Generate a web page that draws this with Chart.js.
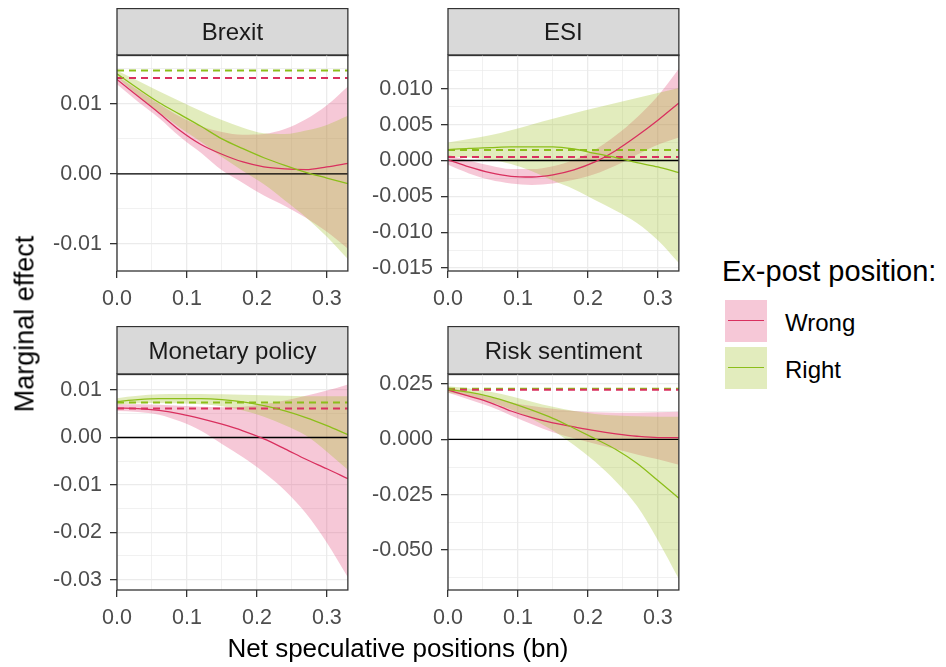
<!DOCTYPE html>
<html>
<head>
<meta charset="utf-8">
<script src="https://cdn.jsdelivr.net/npm/chart.js@4.4.0/dist/chart.umd.min.js"></script>
<style>
  body { margin: 0; background: #fff; }
  #fig { position: relative; width: 946px; height: 667px; overflow: hidden;
         font-family: "Liberation Sans", Arial, sans-serif; }
  #fig canvas { position: absolute; }
  #ytitle { position: absolute; left: 25px; top: 324px; transform: translate(-50%, -50%) rotate(-90deg);
            font-size: 27px; white-space: nowrap; color: #000; }
  #xtitle { position: absolute; left: 398px; top: 648px; transform: translate(-50%, -50%);
            font-size: 26px; white-space: nowrap; color: #000; }
  #legend { position: absolute; left: 722px; top: 254px; }
  #legend .title { font-size: 29px; color: #000; white-space: nowrap; height: 34px; line-height: 34px; }
  #legend .item { position: relative; height: 42px; margin-top: 5px; }
  #legend .item.first { margin-top: 12px; }
  #legend .key { position: absolute; left: 3px; top: 0; width: 42px; height: 42px; }
  #legend .key span { position: absolute; left: 3px; right: 3px; top: 20px; height: 1.3px; }
  #legend .lab { position: absolute; left: 63px; top: 2px; line-height: 42px; font-size: 24px; color: #000; }
</style>
</head>
<body>
<div id="fig">
  <canvas id="c0"></canvas>
  <canvas id="c1"></canvas>
  <canvas id="c2"></canvas>
  <canvas id="c3"></canvas>
  <div id="ytitle">Marginal effect</div>
  <div id="xtitle">Net speculative positions (bn)</div>
  <div id="legend">
    <div class="title">Ex-post position:</div>
    <div class="item first"><div class="key" id="keyWrong"><span></span></div><div class="lab">Wrong</div></div>
    <div class="item"><div class="key" id="keyRight"><span></span></div><div class="lab">Right</div></div>
  </div>
</div>
<script>
// data
const xValues = [0, 0.03, 0.06, 0.09, 0.12, 0.15, 0.18, 0.21, 0.24, 0.27, 0.30, 0.33];
const xTicks = [0, 0.1, 0.2, 0.3];
const xTickLabels = ["0.0", "0.1", "0.2", "0.3"];
const groups = ["Wrong", "Right"];

const brexitWrong     = [0.0135, 0.0111, 0.0087, 0.0062, 0.0042, 0.0028, 0.0017, 0.0010, 0.0007, 0.0006, 0.0010, 0.0015];
const brexitWrongLow  = [0.0128, 0.0103, 0.0080, 0.0053, 0.0030, 0.0005, -0.0013, -0.0031, -0.0046, -0.0063, -0.0083, -0.0107];
const brexitWrongHigh = [0.0140, 0.0120, 0.0100, 0.0082, 0.0068, 0.0060, 0.0056, 0.0057, 0.0064, 0.0078, 0.0098, 0.0125];
const brexitRight     = [0.0143, 0.0122, 0.0102, 0.0085, 0.0068, 0.0050, 0.0036, 0.0023, 0.0012, 0.0002, -0.0006, -0.0014];
const brexitRightLow  = [0.0138, 0.0112, 0.0088, 0.0066, 0.0046, 0.0024, 0.0004, -0.0015, -0.0038, -0.0062, -0.0090, -0.0122];
const brexitRightHigh = [0.0148, 0.0133, 0.0118, 0.0104, 0.0090, 0.0077, 0.0066, 0.0058, 0.0057, 0.0062, 0.0070, 0.0083];
const brexitDashed    = [0.0137, 0.0148];
const brexitTicks     = [-0.01, 0, 0.01];
const brexitLabels    = ["-0.01", "0.00", "0.01"];

const esiWrong     = [0.0001, -0.0009, -0.0017, -0.0022, -0.0023, -0.0020, -0.0013, -0.0002, 0.0014, 0.0034, 0.0056, 0.0080];
const esiWrongLow  = [-0.0006, -0.0018, -0.0027, -0.0032, -0.0034, -0.0032, -0.0027, -0.0019, -0.0007, 0.0008, 0.0022, 0.0032];
const esiWrongHigh = [0.0008, 0.0000, -0.0007, -0.0012, -0.0012, -0.0008, 0.0001, 0.0015, 0.0035, 0.0060, 0.0090, 0.0128];
const esiRight     = [0.0015, 0.0017, 0.0018, 0.0019, 0.0019, 0.0019, 0.0016, 0.0010, 0.0004, -0.0003, -0.0009, -0.0017];
const esiRightLow  = [0.0006, 0.0004, 0.0001, -0.0005, -0.0015, -0.0028, -0.0040, -0.0055, -0.0070, -0.0087, -0.0111, -0.0143];
const esiRightHigh = [0.0025, 0.0030, 0.0035, 0.0042, 0.0050, 0.0058, 0.0066, 0.0073, 0.0080, 0.0087, 0.0094, 0.0101];
const esiDashed    = [0.0005, 0.00145];
const esiTicks     = [-0.015, -0.01, -0.005, 0, 0.005, 0.01];
const esiLabels    = ["-0.015", "-0.010", "-0.005", "0.000", "0.005", "0.010"];

const monWrong     = [0.0062, 0.0061, 0.0057, 0.0050, 0.0040, 0.0028, 0.0014, -0.0003, -0.0024, -0.0046, -0.0066, -0.0087];
const monWrongLow  = [0.0056, 0.0054, 0.0048, 0.0034, 0.0014, -0.0014, -0.0042, -0.0074, -0.0112, -0.0160, -0.0222, -0.0295];
const monWrongHigh = [0.0070, 0.0070, 0.0069, 0.0067, 0.0065, 0.0064, 0.0065, 0.0070, 0.0078, 0.0088, 0.0099, 0.0112];
const monRight     = [0.0076, 0.0080, 0.0082, 0.0082, 0.0082, 0.0080, 0.0075, 0.0067, 0.0056, 0.0042, 0.0025, 0.0006];
const monRightLow  = [0.0069, 0.0072, 0.0073, 0.0072, 0.0070, 0.0066, 0.0057, 0.0044, 0.0026, 0.0004, -0.0030, -0.0068];
const monRightHigh = [0.0083, 0.0088, 0.0091, 0.0092, 0.0092, 0.0091, 0.0090, 0.0089, 0.0088, 0.0087, 0.0087, 0.0087];
const monDashed    = [0.0061, 0.0074];
const monTicks     = [-0.03, -0.02, -0.01, 0, 0.01];
const monLabels    = ["-0.03", "-0.02", "-0.01", "0.00", "0.01"];

const riskWrong     = [0.0223, 0.0195, 0.0166, 0.0128, 0.0098, 0.0074, 0.0056, 0.0039, 0.0025, 0.0014, 0.0008, 0.0008];
const riskWrongLow  = [0.0210, 0.0180, 0.0148, 0.0108, 0.0068, 0.0032, 0.0005, -0.0020, -0.0045, -0.0068, -0.0090, -0.0115];
const riskWrongHigh = [0.0235, 0.0213, 0.0190, 0.0168, 0.0150, 0.0138, 0.0128, 0.0122, 0.0120, 0.0120, 0.0122, 0.0125];
const riskRight     = [0.0225, 0.0213, 0.0193, 0.0165, 0.0132, 0.0095, 0.0050, 0.0003, -0.0046, -0.0108, -0.0186, -0.0266];
const riskRightLow  = [0.0210, 0.0195, 0.0170, 0.0135, 0.0092, 0.0040, -0.0025, -0.0100, -0.0190, -0.0300, -0.0455, -0.0630];
const riskRightHigh = [0.0240, 0.0230, 0.0215, 0.0195, 0.0170, 0.0147, 0.0128, 0.0115, 0.0108, 0.0104, 0.0102, 0.0102];
const riskDashed    = [0.0224, 0.0228];
const riskTicks     = [-0.05, -0.025, 0, 0.025];
const riskLabels    = ["-0.050", "-0.025", "0.000", "0.025"];

// styles
const redLine = "#D9305F";
const greenLine = "#8CBE1A";
const redFill = "rgba(225, 72, 122, 0.3)";
const greenFill = "rgba(158, 192, 38, 0.3)";
const dark = "#333333";

Chart.defaults.font.family = "'Liberation Sans', Arial, sans-serif";

const panels = [
  { id: "c0", title: "Brexit", left: 117, top: 55, strip: 47, min: -0.0139, max: 0.0170,
    series: [brexitWrong, brexitWrongLow, brexitWrongHigh, brexitRight, brexitRightLow, brexitRightHigh],
    dashed: brexitDashed, ticks: brexitTicks, labels: brexitLabels },
  { id: "c1", title: "ESI", left: 448, top: 55, strip: 47, min: -0.0154, max: 0.0147,
    series: [esiWrong, esiWrongLow, esiWrongHigh, esiRight, esiRightLow, esiRightHigh],
    dashed: esiDashed, ticks: esiTicks, labels: esiLabels },
  { id: "c2", title: "Monetary policy", left: 117, top: 374, strip: 48, min: -0.0322, max: 0.0134,
    series: [monWrong, monWrongLow, monWrongHigh, monRight, monRightLow, monRightHigh],
    dashed: monDashed, ticks: monTicks, labels: monLabels },
  { id: "c3", title: "Risk sentiment", left: 448, top: 374, strip: 48, min: -0.068, max: 0.0295,
    series: [riskWrong, riskWrongLow, riskWrongHigh, riskRight, riskRightLow, riskRightHigh],
    dashed: riskDashed, ticks: riskTicks, labels: riskLabels },
];

const PW = 231, PH = 216, YW = 90, XH = 44, PADR = 2;

function pts(ys) {
  return ys.map((y, i) => ({ x: xValues[i], y: y }));
}
function flat(v) {
  return [{ x: xValues[0], y: v }, { x: xValues[xValues.length - 1], y: v }];
}
function withMinor(major, min, max) {
  const step = major[1] - major[0];
  const out = major.slice();
  for (let v = major[0] - step / 2; v <= max + 1e-12; v += step) {
    if (v >= min - 1e-12) out.push(v);
  }
  return out.filter(v => v >= min - 1e-12 && v <= max + 1e-12).sort((a, b) => a - b);
}
function isMajor(v, major) {
  return major.some(m => Math.abs(m - v) < 1e-9);
}
function labelFor(v, major, labels) {
  const i = major.findIndex(m => Math.abs(m - v) < 1e-9);
  return i < 0 ? "" : labels[i];
}

const panelFrame = {
  id: "panelFrame",
  beforeDraw(chart, args, opts) {
    const a = chart.chartArea, ctx = chart.ctx;
    ctx.save();
    ctx.fillStyle = "#D9D9D9";
    ctx.fillRect(a.left, a.top - opts.strip, a.right - a.left, opts.strip);
    ctx.strokeStyle = dark;
    ctx.lineWidth = 1.3;
    ctx.strokeRect(a.left, a.top - opts.strip + 0.5, a.right - a.left, opts.strip);
    ctx.fillStyle = "#1A1A1A";
    ctx.font = "24px 'Liberation Sans', Arial, sans-serif";
    ctx.textAlign = "center";
    ctx.textBaseline = "middle";
    ctx.fillText(opts.title, (a.left + a.right) / 2, a.top - opts.strip / 2 + 2);
    ctx.restore();
  },
  afterDraw(chart) {
    const a = chart.chartArea, ctx = chart.ctx;
    ctx.save();
    ctx.strokeStyle = dark;
    ctx.lineWidth = 1.3;
    ctx.strokeRect(a.left, a.top, a.right - a.left, a.bottom - a.top);
    ctx.restore();
  }
};

panels.forEach(p => {
  const cv = document.getElementById(p.id);
  const w = YW + PW + PADR, h = p.strip + PH + XH;
  cv.width = w; cv.height = h;
  cv.style.left = (p.left - YW) + "px";
  cv.style.top = (p.top - p.strip) + "px";
  cv.style.width = w + "px"; cv.style.height = h + "px";

  const [wMid, wLow, wHigh, rMid, rLow, rHigh] = p.series;
  const band = { pointRadius: 0, borderWidth: 0, borderColor: "rgba(0,0,0,0)", cubicInterpolationMode: "monotone" };
  const yAll = withMinor(p.ticks, p.min, p.max);
  const xAll = withMinor(xTicks, 0, 0.33);

  new Chart(cv, {
    type: "line",
    data: {
      datasets: [
        Object.assign({ label: "Wrong band", data: pts(wHigh), fill: "+1", backgroundColor: redFill, order: 5 }, band),
        Object.assign({ label: "Wrong low", data: pts(wLow), fill: false, order: 5 }, band),
        Object.assign({ label: "Right band", data: pts(rHigh), fill: "+1", backgroundColor: greenFill, order: 4 }, band),
        Object.assign({ label: "Right low", data: pts(rLow), fill: false, order: 4 }, band),
        { label: "zero", data: flat(0), borderColor: "#000", borderWidth: 1.4, pointRadius: 0, fill: false, order: 3 },
        { label: groups[0] + " mean", data: flat(p.dashed[0]), borderColor: redLine, borderWidth: 2, borderDash: [7, 5],
          pointRadius: 0, fill: false, order: 2 },
        { label: groups[1] + " mean", data: flat(p.dashed[1]), borderColor: greenLine, borderWidth: 2, borderDash: [7, 5],
          pointRadius: 0, fill: false, order: 2 },
        { label: groups[0], data: pts(wMid), borderColor: redLine, borderWidth: 1.3, pointRadius: 0, fill: false,
          cubicInterpolationMode: "monotone", order: 1 },
        { label: groups[1], data: pts(rMid), borderColor: greenLine, borderWidth: 1.3, pointRadius: 0, fill: false,
          cubicInterpolationMode: "monotone", order: 0 },
      ]
    },
    options: {
      responsive: false,
      animation: false,
      devicePixelRatio: 1,
      layout: { padding: { top: p.strip, right: PADR, left: 0, bottom: 0 } },
      plugins: {
        legend: { display: false },
        tooltip: { enabled: false },
        panelFrame: { title: p.title, strip: p.strip }
      },
      scales: {
        x: {
          type: "linear", min: 0, max: 0.33,
          afterBuildTicks: s => { s.ticks = xAll.map(v => ({ value: v })); },
          afterFit: s => { s.height = XH; },
          border: { display: false },
          grid: {
            color: "#EBEBEB",
            lineWidth: c => isMajor(c.tick.value, xTicks) ? 1.3 : 0.7,
            tickColor: c => isMajor(c.tick.value, xTicks) ? dark : "rgba(0,0,0,0)",
            tickWidth: 1.3, tickLength: 7
          },
          ticks: {
            autoSkip: false, maxRotation: 0, padding: 8, color: "#4D4D4D", font: { size: 21.5 },
            callback: v => labelFor(v, xTicks, xTickLabels)
          }
        },
        y: {
          type: "linear", min: p.min, max: p.max,
          afterBuildTicks: s => { s.ticks = yAll.map(v => ({ value: v })); },
          afterFit: s => { s.width = YW; },
          border: { display: false },
          grid: {
            color: "#EBEBEB",
            lineWidth: c => isMajor(c.tick.value, p.ticks) ? 1.3 : 0.7,
            tickColor: c => isMajor(c.tick.value, p.ticks) ? dark : "rgba(0,0,0,0)",
            tickWidth: 1.3, tickLength: 7
          },
          ticks: {
            autoSkip: false, padding: 8, color: "#4D4D4D", font: { size: 21.5 },
            callback: v => labelFor(v, p.ticks, p.labels)
          }
        }
      }
    },
    plugins: [panelFrame]
  });
});

// legend keys
document.getElementById("keyWrong").style.background = redFill;
document.querySelector("#keyWrong span").style.background = redLine;
document.getElementById("keyRight").style.background = greenFill;
document.querySelector("#keyRight span").style.background = greenLine;
</script>
</body>
</html>
